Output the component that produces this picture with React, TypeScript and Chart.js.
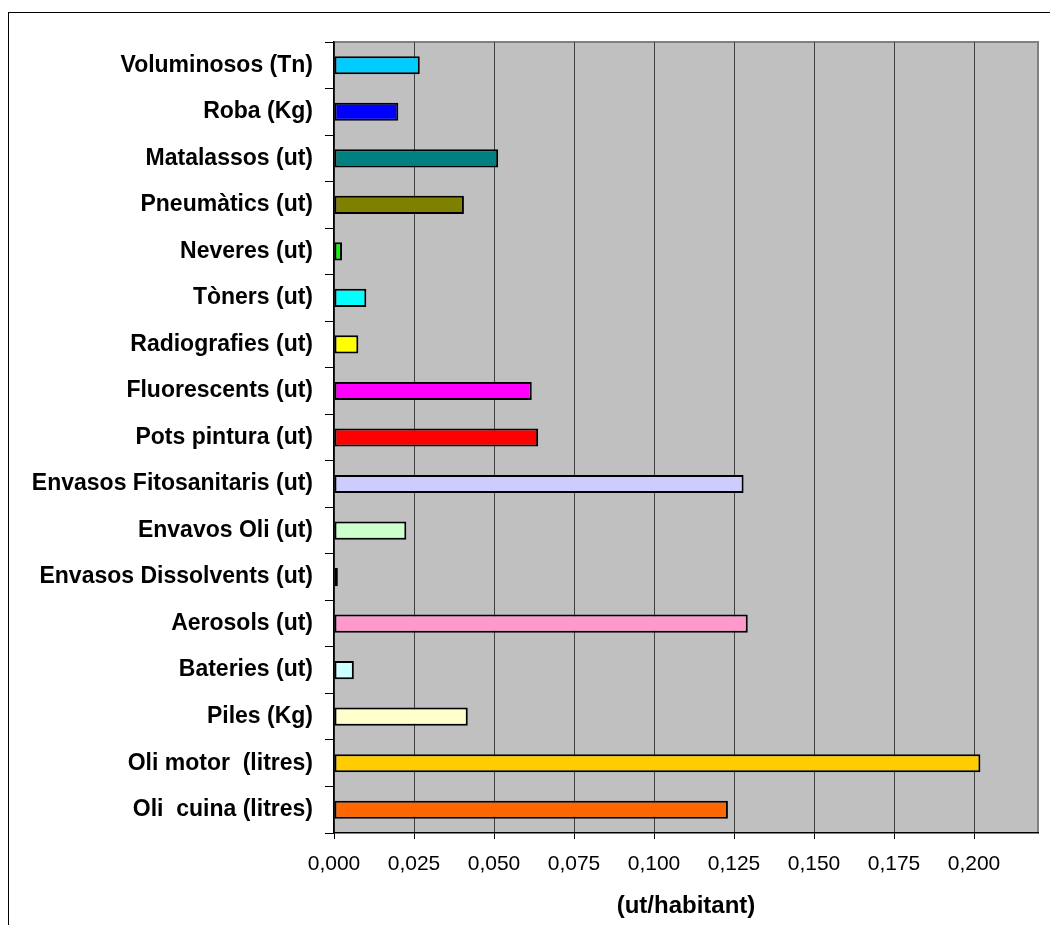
import React, { useEffect, useRef } from "react";
import { Chart, registerables } from "chart.js";

Chart.register(...registerables);

const categories: string[] = [
  "Voluminosos (Tn)",
  "Roba (Kg)",
  "Matalassos (ut)",
  "Pneumàtics (ut)",
  "Neveres (ut)",
  "Tòners (ut)",
  "Radiografies (ut)",
  "Fluorescents (ut)",
  "Pots pintura (ut)",
  "Envasos Fitosanitaris (ut)",
  "Envavos Oli (ut)",
  "Envasos Dissolvents (ut)",
  "Aerosols (ut)",
  "Bateries (ut)",
  "Piles (Kg)",
  "Oli motor  (litres)",
  "Oli  cuina (litres)",
];

const values: number[] = [
  0.0268, 0.0201, 0.0513, 0.0406, 0.0025, 0.0101, 0.0076, 0.0618, 0.0638,
  0.128, 0.0226, 0.0012, 0.1293, 0.0062, 0.0418, 0.202, 0.1231,
];

const barColors: string[] = [
  "#00CCFF", "#0000FF", "#008080", "#808000", "#00FF00", "#00FFFF", "#FFFF00",
  "#FF00FF", "#FF0000", "#CCCCFF", "#CCFFCC", "#FF8080", "#FF99CC", "#CCFFFF",
  "#FFFFCC", "#FFCC00", "#FF6600",
];

const tickValues: number[] = [0, 0.025, 0.05, 0.075, 0.1, 0.125, 0.15, 0.175, 0.2];
const axisMin = 0;
const axisMax = 0.22;
const axisTitle = "(ut/habitant)";

const FONT = "'Liberation Sans', Arial, Helvetica, sans-serif";

const plotBackground = {
  id: "plotBackground",
  beforeDraw(chart: any) {
    const { ctx, chartArea } = chart;
    if (!chartArea) return;
    const { left, top, right, bottom } = chartArea;
    ctx.save();
    ctx.fillStyle = "#C0C0C0";
    ctx.fillRect(left, top, right - left, bottom - top);
    ctx.strokeStyle = "#808080";
    ctx.lineWidth = 2;
    ctx.beginPath();
    ctx.moveTo(left, top);
    ctx.lineTo(right, top);
    ctx.lineTo(right, bottom);
    ctx.stroke();
    ctx.restore();
  },
};

export default function App() {
  const canvasRef = useRef<HTMLCanvasElement | null>(null);

  useEffect(() => {
    if (!canvasRef.current) return;
    Chart.defaults.font.family = FONT;
    const chart = new Chart(canvasRef.current, {
      type: "bar",
      data: {
        labels: categories,
        datasets: [
          {
            data: values,
            backgroundColor: barColors,
            borderColor: "#000000",
            borderWidth: 2,
            borderSkipped: false,
            barPercentage: 0.39,
            categoryPercentage: 1,
          },
        ],
      },
      options: {
        indexAxis: "y",
        animation: false,
        responsive: true,
        maintainAspectRatio: false,
        layout: { padding: { top: 29, right: 20, bottom: 4, left: 0 } },
        plugins: {
          legend: { display: false },
          tooltip: { enabled: false },
        },
        scales: {
          x: {
            type: "linear",
            min: axisMin,
            max: axisMax,
            afterBuildTicks: (scale: any) => {
              scale.ticks = tickValues.map((value) => ({ value }));
            },
            ticks: {
              color: "#000",
              padding: 13,
              font: { size: 21 },
              maxRotation: 0,
              callback: (v: any) => Number(v).toFixed(3).replace(".", ","),
            },
            grid: {
              color: "#404040",
              lineWidth: 1,
              tickColor: "#000",
              tickLength: 6,
            },
            border: { display: true, color: "#000", width: 1.5 },
            title: {
              display: true,
              text: axisTitle,
              color: "#000",
              font: { size: 24, weight: "bold" },
              padding: { top: 2, bottom: 0 },
            },
          },
          y: {
            type: "category",
            afterFit: (scale: any) => {
              scale.width = 325;
            },
            ticks: {
              color: "#000",
              padding: 12,
              autoSkip: false,
              font: { size: 23, weight: "bold" },
            },
            grid: {
              display: true,
              drawOnChartArea: false,
              drawTicks: true,
              tickLength: 9,
              tickColor: "#000",
              offset: true,
            },
            border: { display: true, color: "#000", width: 1.5 },
          },
        },
      },
      plugins: [plotBackground],
    });
    return () => chart.destroy();
  }, []);

  return (
    <div
      style={{
        marginTop: 4,
        width: 1050,
        height: 913,
        borderTop: "1px solid #000",
        borderLeft: "1px solid #000",
        boxSizing: "border-box",
        position: "relative",
        background: "#fff",
      }}
    >
      <div style={{ position: "absolute", left: 0, top: 0, width: 1049, height: 912 }}>
        <canvas ref={canvasRef} />
      </div>
    </div>
  );
}
